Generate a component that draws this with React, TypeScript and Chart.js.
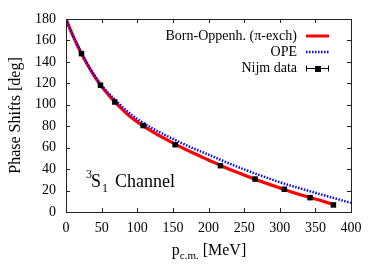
import React, { useEffect, useRef } from "react";
import { Chart, registerables } from "chart.js";

Chart.register(...registerables);

// Born-Oppenheimer (pi-exchange) curve
const bornX = [0, 10, 20, 30, 40, 50, 60, 70, 80, 90, 100, 120, 140, 160, 180, 200, 220, 240, 260, 280, 300, 320, 340, 360, 375];
const bornY = [180, 164, 150, 137.5, 126.5, 117, 109, 101.7, 95, 89, 84, 75.5, 68, 61, 54.5, 48.5, 42.5, 37, 32, 27, 22.5, 18, 14, 10.3, 7];

// OPE curve
const opeX = [0, 10, 20, 30, 40, 50, 60, 70, 80, 90, 100, 120, 140, 160, 180, 200, 220, 240, 260, 280, 300, 320, 340, 360, 380, 400];
const opeY = [180, 164.2, 150.5, 138, 127.3, 118, 110.5, 104, 97.5, 91.8, 86.8, 78.5, 71.5, 65, 59, 53.5, 47.8, 42.3, 37.2, 32.4, 27.8, 23.7, 19.8, 16, 12.2, 8.5];

// Nijmegen PWA data
const nijmX = [21.7, 48.4, 68.5, 108.3, 153.2, 216.7, 265.4, 306.4, 342.6, 375.3];
const nijmY = [147.75, 118.18, 102.61, 80.63, 62.77, 43.23, 30.72, 21.22, 13.39, 6.6];

const xTicks = [0, 50, 100, 150, 200, 250, 300, 350, 400];
const yTicks = [0, 20, 40, 60, 80, 100, 120, 140, 160, 180];

const legendLabels = ["Born-Oppenh. (\u03c0-exch)", "OPE", "Nijm data"];
const yTitle = "Phase Shifts [deg]";

const SERIF = "'Liberation Serif', 'Times New Roman', serif";
const RED = "#ff0000";
const BLUE = "#0000ff";

const decorPlugin = {
  id: "decor",
  afterDraw(chart: any) {
    const ctx = chart.ctx as CanvasRenderingContext2D;
    const area = chart.chartArea;
    const xs = chart.scales.x;
    const ys = chart.scales.y;
    ctx.save();
    // frame
    ctx.strokeStyle = "#222";
    ctx.lineWidth = 1;
    ctx.strokeRect(Math.round(area.left) + 0.5, Math.round(area.top) + 0.5, Math.round(area.right - area.left), Math.round(area.bottom - area.top));
    // inward ticks
    const tl = 4;
    ctx.beginPath();
    xTicks.forEach((v) => {
      const px = Math.round(xs.getPixelForValue(v)) + 0.5;
      ctx.moveTo(px, area.bottom);
      ctx.lineTo(px, area.bottom - tl);
      ctx.moveTo(px, area.top);
      ctx.lineTo(px, area.top + tl);
    });
    yTicks.forEach((v) => {
      const py = Math.round(ys.getPixelForValue(v)) + 0.5;
      ctx.moveTo(area.left, py);
      ctx.lineTo(area.left + tl, py);
      ctx.moveTo(area.right, py);
      ctx.lineTo(area.right - tl, py);
    });
    ctx.stroke();

    ctx.fillStyle = "#000";
    // legend
    ctx.font = `14px ${SERIF}`;
    ctx.textAlign = "right";
    ctx.textBaseline = "middle";
    const lx = 297;
    const rows = [36, 52, 68];
    legendLabels.forEach((t, i) => ctx.fillText(t, lx, rows[i]));
    const sx0 = 306, sx1 = 329;
    ctx.lineWidth = 3;
    ctx.strokeStyle = RED;
    ctx.beginPath();
    ctx.moveTo(sx0, rows[0]);
    ctx.lineTo(sx1, rows[0]);
    ctx.stroke();
    ctx.lineWidth = 2.5;
    ctx.strokeStyle = BLUE;
    ctx.setLineDash([1.5, 1.5]);
    ctx.beginPath();
    ctx.moveTo(sx0, rows[1]);
    ctx.lineTo(sx1, rows[1]);
    ctx.stroke();
    ctx.setLineDash([]);
    ctx.strokeStyle = "#000";
    ctx.lineWidth = 1;
    ctx.beginPath();
    ctx.moveTo(sx0, rows[2] + 0.5);
    ctx.lineTo(sx1, rows[2] + 0.5);
    ctx.moveTo(sx0 + 0.5, rows[2] - 2.5);
    ctx.lineTo(sx0 + 0.5, rows[2] + 3.5);
    ctx.moveTo(sx1 - 0.5, rows[2] - 2.5);
    ctx.lineTo(sx1 - 0.5, rows[2] + 3.5);
    ctx.stroke();
    ctx.fillRect(315, rows[2] - 2, 6, 6);

    // y title
    ctx.save();
    ctx.translate(16, (area.top + area.bottom) / 2);
    ctx.rotate(-Math.PI / 2);
    ctx.font = `16px ${SERIF}`;
    ctx.textAlign = "center";
    ctx.textBaseline = "middle";
    ctx.fillText(yTitle, 0, 0);
    ctx.restore();

    // x title: p_{c.m.} [MeV]
    ctx.textAlign = "left";
    ctx.textBaseline = "alphabetic";
    const big = `16px ${SERIF}`;
    const small = `11px ${SERIF}`;
    ctx.font = big;
    const wP = ctx.measureText("p").width;
    const wR = ctx.measureText(" [MeV]").width;
    ctx.font = small;
    const wS = ctx.measureText("c.m.").width;
    const total = wP + wS + wR;
    let x = 209 - total / 2;
    const base = 255;
    ctx.font = big;
    ctx.fillText("p", x, base);
    x += wP;
    ctx.font = small;
    ctx.fillText("c.m.", x, base + 4);
    x += wS;
    ctx.font = big;
    ctx.fillText(" [MeV]", x, base);

    // channel label ^3S_1 Channel
    const cb = 187;
    ctx.font = `12px ${SERIF}`;
    ctx.fillText("3", 86, 178);
    ctx.font = `18px ${SERIF}`;
    ctx.fillText("S", 91, cb);
    ctx.font = `12px ${SERIF}`;
    ctx.fillText("1", 102, cb + 5);
    ctx.font = `18px ${SERIF}`;
    ctx.fillText("Channel", 115, cb);
    ctx.restore();
  },
};

export default function App() {
  const ref = useRef<HTMLCanvasElement | null>(null);
  useEffect(() => {
    document.body.style.margin = "0";
    const canvas = ref.current!;
    const chart = new Chart(canvas, {
      type: "line",
      data: {
        datasets: [
          {
            label: legendLabels[2],
            data: nijmX.map((x, i) => ({ x, y: nijmY[i] })),
            showLine: false,
            pointStyle: "rect",
            pointRadius: 3.9,
            pointBackgroundColor: "#000",
            pointBorderColor: "#000",
            pointBorderWidth: 0,
          },
          {
            label: legendLabels[1],
            data: opeX.map((x, i) => ({ x, y: opeY[i] })),
            borderColor: BLUE,
            borderWidth: 2.5,
            borderDash: [1.5, 1.5],
            pointRadius: 0,
            cubicInterpolationMode: "monotone",
          },
          {
            label: legendLabels[0],
            data: bornX.map((x, i) => ({ x, y: bornY[i] })),
            borderColor: RED,
            borderWidth: 3.2,
            pointRadius: 0,
            cubicInterpolationMode: "monotone",
          },
        ],
      },
      options: {
        responsive: false,
        animation: false,
        events: [],
        layout: { padding: { left: 0, right: 25, top: 19, bottom: 0 } },
        plugins: { legend: { display: false }, tooltip: { enabled: false } },
        scales: {
          x: {
            type: "linear",
            min: 0,
            max: 400,
            afterFit: (s: any) => {
              s.height = 61;
            },
            afterBuildTicks: (s: any) => {
              s.ticks = xTicks.map((v) => ({ value: v }));
            },
            grid: { display: false, drawTicks: false },
            border: { display: false },
            ticks: { color: "#000", padding: 8, maxRotation: 0, font: { family: SERIF, size: 14 } },
          },
          y: {
            type: "linear",
            min: 0,
            max: 180,
            afterFit: (s: any) => {
              s.width = 66;
            },
            afterBuildTicks: (s: any) => {
              s.ticks = yTicks.map((v) => ({ value: v }));
            },
            grid: { display: false, drawTicks: false },
            border: { display: false },
            ticks: { color: "#000", padding: 10, font: { family: SERIF, size: 14 } },
          },
        },
      },
      plugins: [decorPlugin],
    });
    return () => chart.destroy();
  }, []);
  return (
    <div style={{ position: "absolute", left: 0, top: 0, width: 376, height: 273 }}>
      <canvas ref={ref} width={376} height={273} style={{ width: 376, height: 273 }} />
    </div>
  );
}
